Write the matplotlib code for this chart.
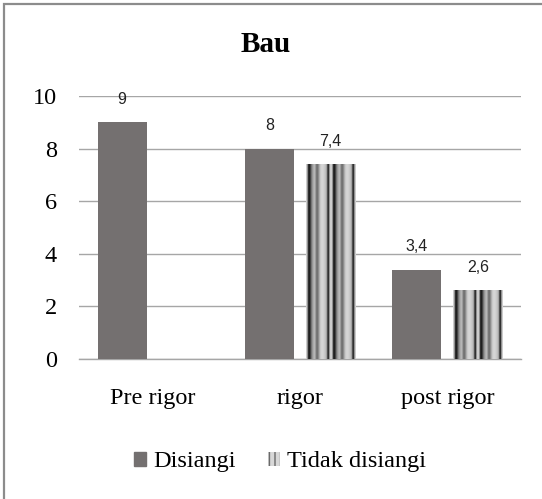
import numpy as np
import matplotlib
matplotlib.use("Agg")
import matplotlib.pyplot as plt
from matplotlib.patches import Patch, Rectangle

categories = ["Pre rigor", "rigor", "post rigor"]
disiangi = [9, 8, 3.4]
tidak_disiangi = [None, 7.4, 2.6]
value_labels_d = ["9", "8", "3,4"]
value_labels_t = ["", "7,4", "2,6"]
yticks = [0, 2, 4, 6, 8, 10]
title = "Bau"
series_names = ["Disiangi", "Tidak disiangi"]

serif = ["Liberation Serif", "DejaVu Serif"]
sans = ["Liberation Sans", "DejaVu Sans"]

fig = plt.figure(figsize=(5.42, 4.99), dpi=100)
ax = fig.add_axes([79/542, 1-359/499, (521-79)/542, (359-96)/499])

# outer border (only top/left visible in reference)
fig.patches.append(Rectangle((4/542, -0.05), 1.1, 1-3.5/499+0.05, transform=fig.transFigure,
                             fill=False, edgecolor="#8c8c8c", linewidth=1.6))

x = np.arange(len(categories))
w = 0.333
off = 0.207
dcol = "#747070"

ax.bar(x - off, disiangi, width=w, color=dcol, zorder=3)

# striped gradient pattern for "Tidak disiangi"
cycle = [0.80, 0.55, 0.15, 0.12, 0.30, 0.50, 0.62, 0.70, 0.72, 0.55, 0.42, 0.48,
         0.62, 0.76, 0.82, 0.84, 0.83, 0.80, 0.76, 0.70, 0.35, 0.15, 0.55, 0.80]
pattern = np.array(cycle * 2)[None, :]
for xi, v in zip(x, tidak_disiangi):
    if v is None:
        continue
    ax.imshow(pattern, cmap="gray", vmin=0, vmax=1, aspect="auto",
              extent=[xi + off - w/2, xi + off + w/2, 0, v], zorder=3,
              interpolation="bilinear")

for xi, v, lab in zip(x, disiangi, value_labels_d):
    ax.annotate(lab, (xi - off, v), xytext=(0, 16.5), textcoords="offset points",
                ha="center", va="center", fontsize=11.5, family=sans, color="#222222")
for xi, v, lab in zip(x, tidak_disiangi, value_labels_t):
    if v is None:
        continue
    ax.annotate(lab, (xi + off, v), xytext=(0, 16.5), textcoords="offset points",
                ha="center", va="center", fontsize=11.5, family=sans, color="#222222")

ax.set_xlim(-0.5, len(categories) - 0.5)
ax.set_ylim(0, 10)
ax.set_yticks(yticks)
ax.set_yticklabels([str(t) for t in yticks], family=serif, fontsize=17.5)
ax.set_xticks(x)
ax.set_xticklabels(categories, family=serif, fontsize=17.5)
ax.tick_params(axis="x", length=0, pad=21)
ax.tick_params(axis="y", length=0, pad=16)
ax.yaxis.grid(True, color="#a6a6a6", linewidth=1.0, zorder=0)
ax.set_axisbelow(True)
for s in ["top", "right", "left"]:
    ax.spines[s].set_visible(False)
ax.spines["bottom"].set_color("#a6a6a6")
ax.spines["bottom"].set_linewidth(1.0)

fig.text(266/542, 1 - 44/499, title, ha="center", va="center", fontsize=21,
         fontweight="bold", family=serif)

handles = [Patch(facecolor=dcol, edgecolor=dcol),
           Patch(facecolor="#d8d8d8", edgecolor="#6a6a6a", hatch="|||", linewidth=0)]
leg = fig.legend(handles, series_names, loc="center", bbox_to_anchor=(280/542, 1 - 462/499),
                 ncol=2, frameon=False, prop={"family": serif, "size": 17.5},
                 handlelength=0.5, handleheight=0.5, handletextpad=0.3, columnspacing=1.3)

fig.savefig("out.png", dpi=100)
